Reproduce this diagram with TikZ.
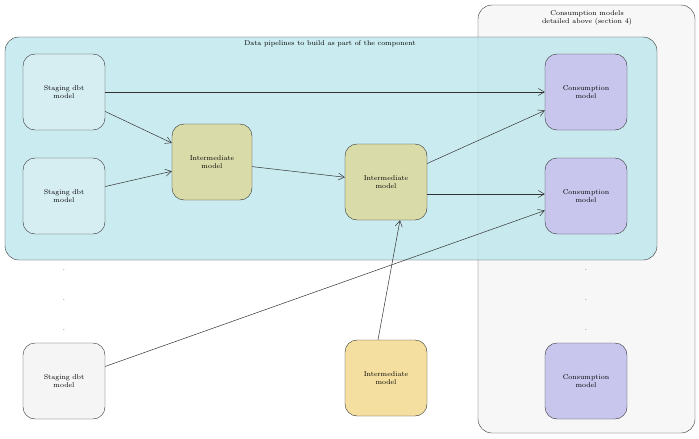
\documentclass[tikz,border=0pt]{standalone}
\usetikzlibrary{positioning, arrows.meta}
\definecolor{pipeblue}{HTML}{BDE6EC}
\definecolor{stagefill}{HTML}{D6EEF2}
\definecolor{interfill}{HTML}{D9DCA8}
\definecolor{orangefill}{HTML}{F5DFA0}
\definecolor{consfill}{HTML}{C9C6EE}
\tikzset{
  model/.style = {draw = black!80, rounded corners = 12pt, minimum width = 82pt,
    minimum height = 76pt, align = center, font = \scriptsize, text width = 60pt},
  flow/.style = {-{Straight Barb[length = 6pt, width = 7pt]}, draw = black!80, line width = 0.5pt},
}
\begin{document}
\begin{tikzpicture}[x = 1pt, y = -1pt]
        \useasboundingbox (0, 0) rectangle (699, 439);
        \draw [black!80, fill = black!3, rounded corners = 14pt] (478, 5) rectangle (695, 433);
        \draw [black!80, fill = pipeblue, fill opacity = 0.8, rounded corners = 14pt] (5, 37) rectangle (657, 260);
        \node [font = \scriptsize] (title) at (330, 44) {Data pipelines to build as part of the component};
        \node [font = \scriptsize, align = center] (constitle) at (587, 18) {Consumption models\\detailed above (section 4)};
        \node [model, fill = stagefill] (stageA) at (64, 92) {Staging dbt\\model};
        \node [model, fill = stagefill] (stageB) at (64, 196) {Staging dbt\\model};
        \node [model, fill = black!4] (stageC) at (64, 381) {Staging dbt\\model};
        \node [model, fill = interfill, minimum width = 80pt] (interA) at (212, 162) {Intermediate\\model};
        \node [model, fill = interfill] (interB) at (386, 182) {Intermediate\\model};
        \node [model, fill = orangefill] (interC) at (386, 378) {Intermediate\\model};
        \node [model, fill = consfill] (consA) at (586, 92) {Consumption\\model};
        \node [model, fill = consfill] (consB) at (586, 196) {Consumption\\model};
        \node [model, fill = consfill] (consC) at (586, 381) {Consumption\\model};
        \foreach \y in {270, 300, 330}
        {
            \node [font = \scriptsize] at (64, \y) {.};
            \node [font = \scriptsize] at (586, \y) {.};
        }
        \draw [flow] (stageA) -- (consA);
        \draw [flow] (stageA) -- (interA);
        \draw [flow] (stageB) -- (interA);
        \draw [flow] (interA) -- (interB);
        \draw [flow] (interB) -- (consA);
        \draw [flow] (interB.east) ++(0, 12) -- (consB.west |- 0, 194);
        \draw [flow] (interC.north) ++(-8, 0) -- ([xshift = 14pt] interB.south);
        \draw [flow] (stageC) -- (consB);
    \end{tikzpicture}
\end{document}
